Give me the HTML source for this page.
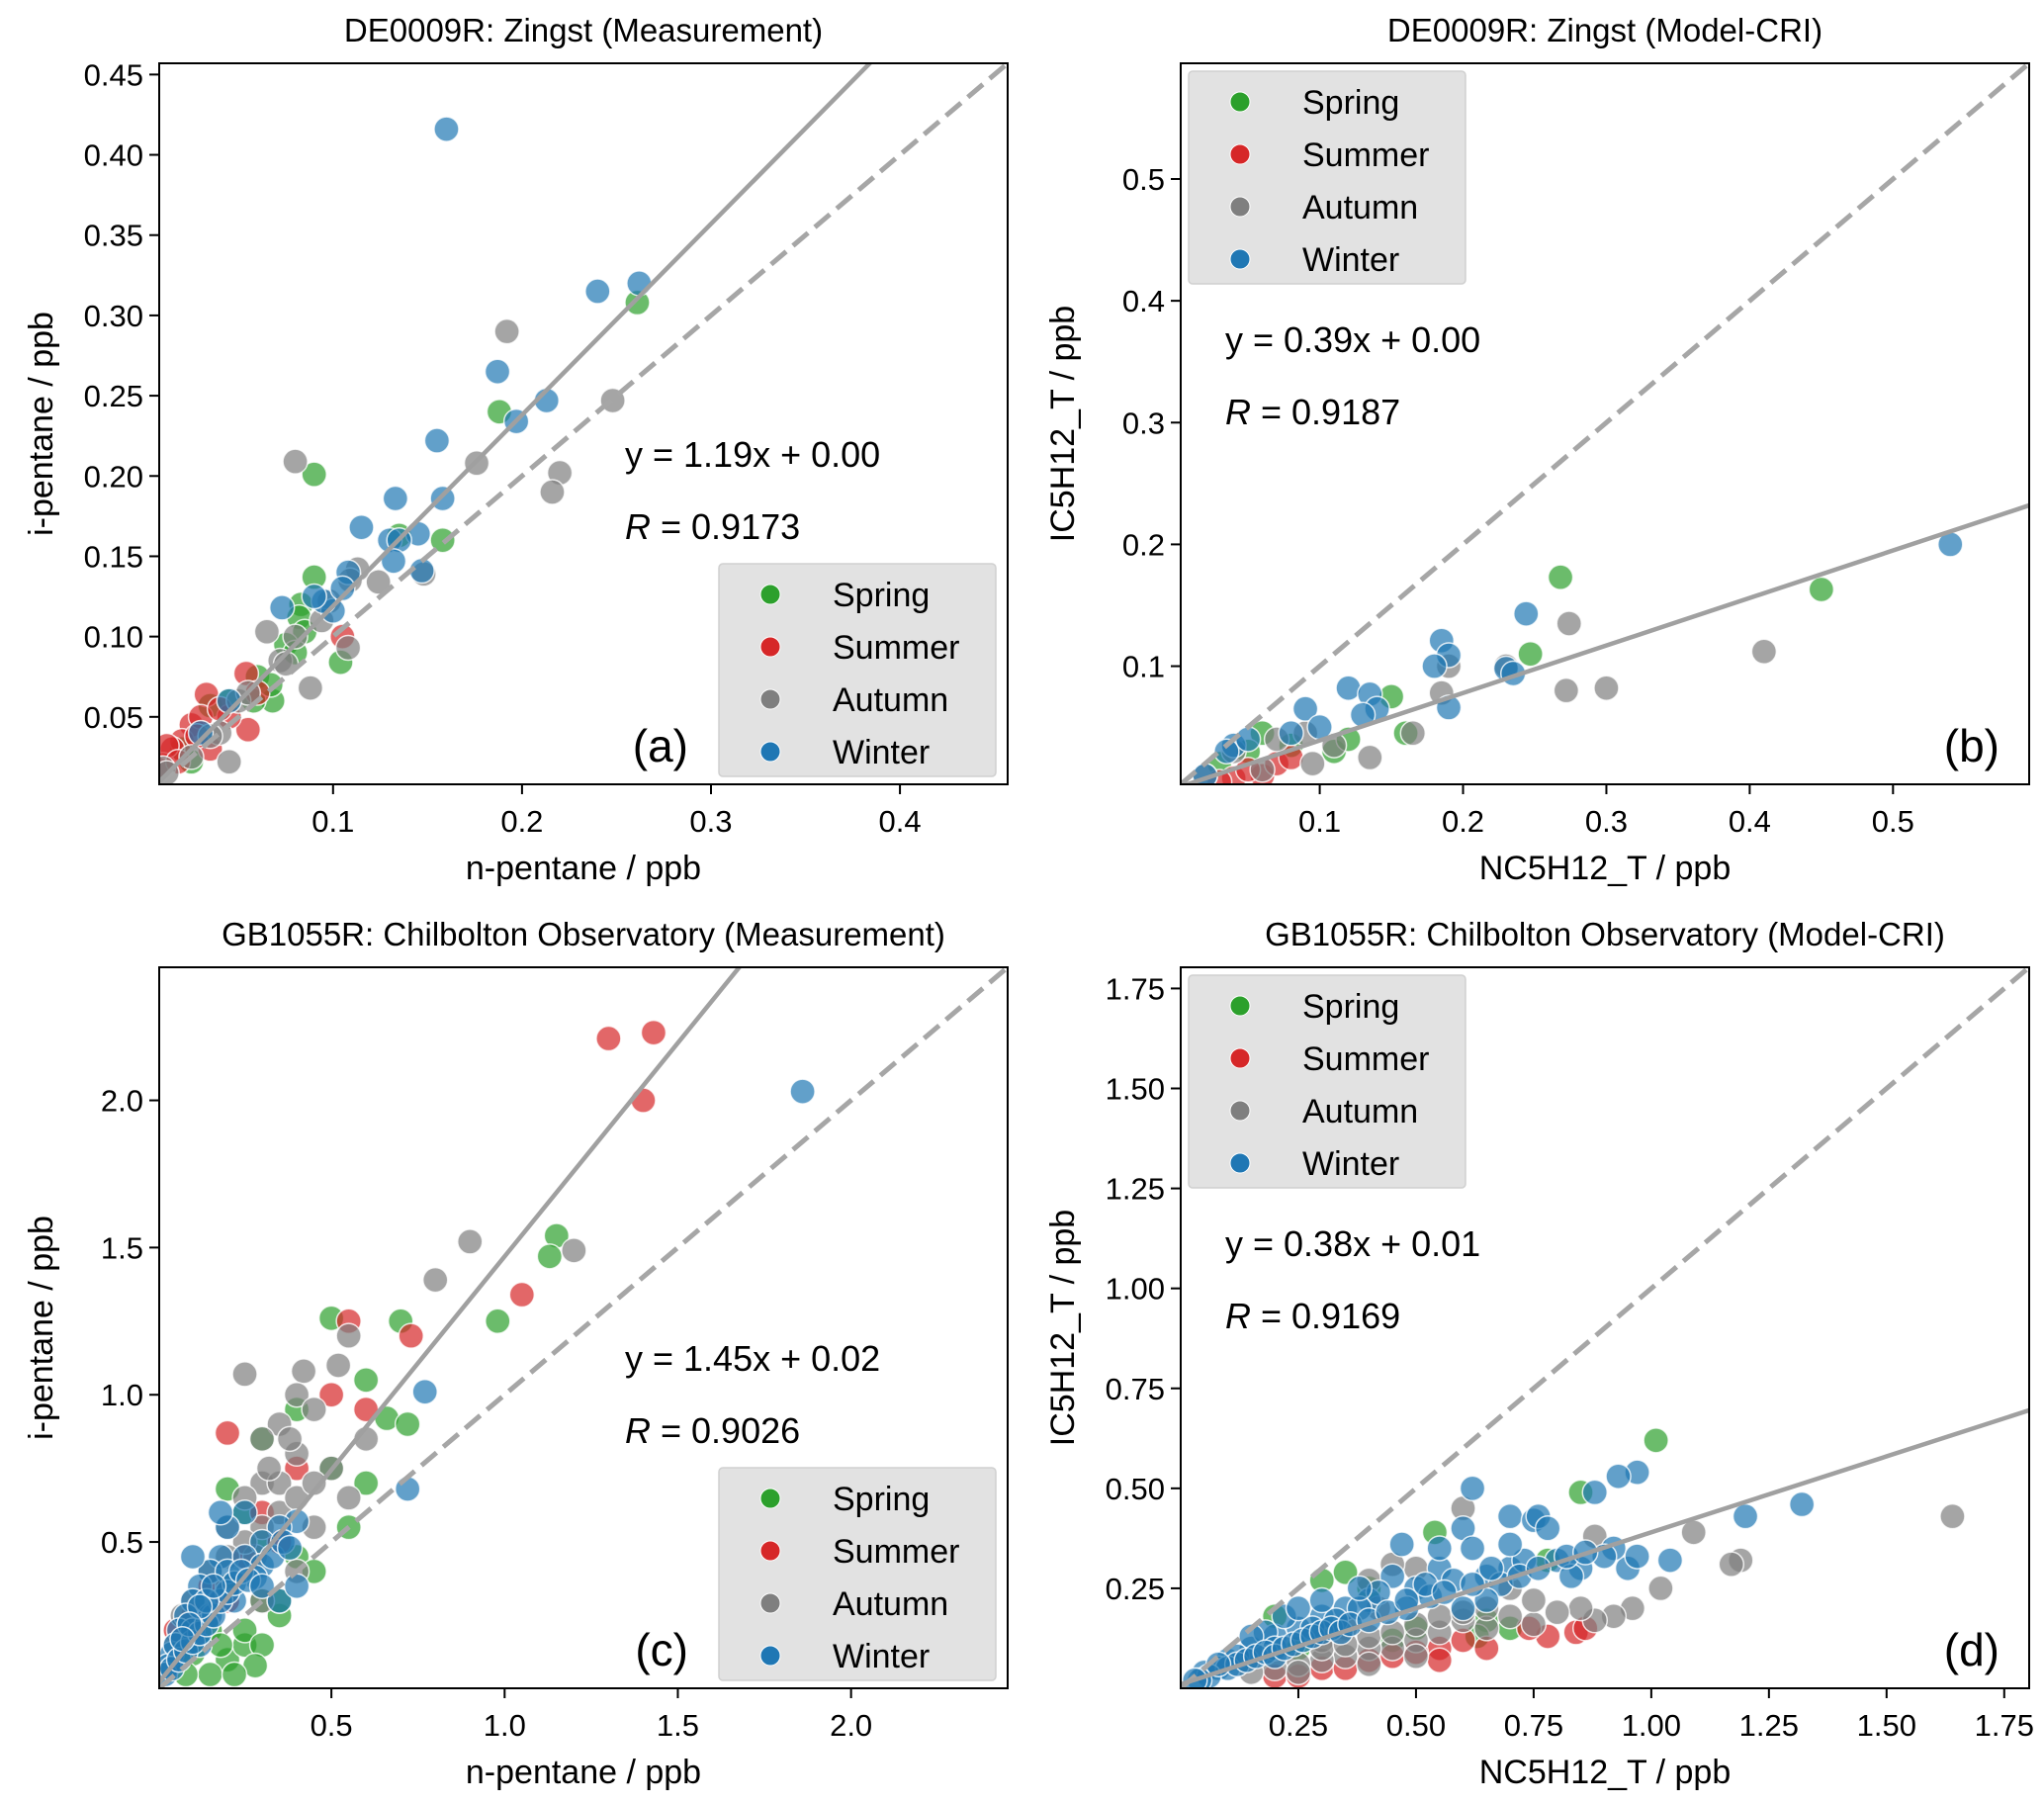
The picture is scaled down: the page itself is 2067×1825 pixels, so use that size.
<!DOCTYPE html>
<html><head><meta charset="utf-8"><style>
body{margin:0;background:#fff}
svg{display:block;font-family:"Liberation Sans","DejaVu Sans",sans-serif}
</style></head><body>
<svg id="fig" width="2067" height="1825" viewBox="0 0 2067 1825" xmlns="http://www.w3.org/2000/svg"></svg>
<script>
// ---- data arrays (season point sets per panel) ----
const seasons = ["Spring","Summer","Autumn","Winter"];
const seasonColors = ["#2ca02c","#d62728","#7f7f7f","#1f77b4"];

const aSpring = [[0.261,0.308],[0.188,0.24],[0.09,0.201],[0.135,0.163],[0.158,0.16],[0.09,0.137],[0.083,0.12],[0.082,0.112],[0.085,0.103],[0.104,0.084],[0.075,0.095],[0.06,0.075],[0.068,0.06],[0.058,0.06],[0.067,0.07],[0.035,0.057],[0.045,0.06],[0.025,0.022],[0.02,0.03],[0.08,0.09]];
const aSummer = [[0.105,0.1],[0.054,0.077],[0.033,0.064],[0.055,0.042],[0.045,0.05],[0.025,0.045],[0.03,0.05],[0.035,0.03],[0.02,0.035],[0.015,0.03],[0.01,0.02],[0.012,0.032],[0.018,0.022],[0.04,0.055],[0.06,0.065],[0.028,0.038]];
const aAutumn = [[0.192,0.29],[0.248,0.247],[0.176,0.208],[0.08,0.209],[0.22,0.202],[0.216,0.19],[0.148,0.139],[0.124,0.134],[0.113,0.142],[0.109,0.135],[0.098,0.122],[0.094,0.11],[0.108,0.093],[0.065,0.103],[0.088,0.068],[0.072,0.085],[0.075,0.083],[0.08,0.1],[0.045,0.022],[0.04,0.04],[0.05,0.06],[0.055,0.065],[0.025,0.025],[0.01,0.018],[0.012,0.015],[0.035,0.038]];
const aWinter = [[0.16,0.416],[0.24,0.315],[0.262,0.32],[0.187,0.265],[0.213,0.247],[0.197,0.234],[0.155,0.222],[0.133,0.186],[0.158,0.186],[0.115,0.168],[0.145,0.164],[0.13,0.16],[0.135,0.16],[0.132,0.147],[0.147,0.141],[0.108,0.14],[0.073,0.118],[0.1,0.116],[0.095,0.122],[0.105,0.13],[0.09,0.125],[0.045,0.06],[0.03,0.04]];

const bSpring = [[0.45,0.163],[0.268,0.173],[0.247,0.11],[0.15,0.075],[0.16,0.045],[0.11,0.03],[0.06,0.045],[0.08,0.035],[0.12,0.04],[0.05,0.03],[0.03,0.02]];
const bSummer = [[0.06,0.01],[0.04,0.008],[0.05,0.015],[0.07,0.02],[0.03,0.005],[0.08,0.025]];
const bAutumn = [[0.41,0.112],[0.274,0.135],[0.3,0.082],[0.272,0.08],[0.185,0.078],[0.19,0.1],[0.135,0.025],[0.165,0.045],[0.23,0.1],[0.09,0.045],[0.095,0.02],[0.06,0.015],[0.11,0.035],[0.04,0.03],[0.02,0.01],[0.07,0.04]];
const bWinter = [[0.54,0.2],[0.244,0.143],[0.185,0.121],[0.19,0.109],[0.18,0.1],[0.19,0.066],[0.23,0.098],[0.235,0.094],[0.12,0.082],[0.135,0.077],[0.14,0.065],[0.13,0.06],[0.09,0.065],[0.1,0.05],[0.04,0.035],[0.035,0.03],[0.05,0.04],[0.08,0.045],[0.02,0.01]];

const cSpring = [[1.15,1.54],[1.13,1.47],[0.98,1.25],[0.7,1.25],[0.5,1.26],[0.6,1.05],[0.66,0.92],[0.72,0.9],[0.4,0.95],[0.6,0.7],[0.3,0.85],[0.2,0.68],[0.25,0.6],[0.3,0.5],[0.4,0.45],[0.2,0.35],[0.15,0.2],[0.2,0.1],[0.25,0.15],[0.15,0.05],[0.1,0.12],[0.3,0.3],[0.35,0.25],[0.45,0.4],[0.55,0.55],[0.5,0.75],[0.08,0.05],[0.25,0.2],[0.3,0.15],[0.35,0.3],[0.18,0.15],[0.28,0.08],[0.22,0.05]];
const cSummer = [[1.3,2.21],[1.43,2.23],[1.4,2.0],[1.05,1.34],[0.73,1.2],[0.55,1.25],[0.6,0.95],[0.5,1.0],[0.2,0.87],[0.4,0.75],[0.3,0.6],[0.25,0.45],[0.1,0.25],[0.15,0.35],[0.05,0.2],[0.2,0.3],[0.35,0.5]];
const cAutumn = [[1.2,1.49],[0.9,1.52],[0.8,1.39],[0.55,1.2],[0.52,1.1],[0.25,1.07],[0.42,1.08],[0.4,1.0],[0.45,0.95],[0.35,0.9],[0.3,0.85],[0.4,0.8],[0.5,0.75],[0.3,0.7],[0.25,0.65],[0.35,0.6],[0.45,0.55],[0.2,0.55],[0.28,0.45],[0.15,0.4],[0.1,0.3],[0.2,0.35],[0.4,0.4],[0.05,0.15],[0.07,0.25],[0.3,0.3],[0.6,0.85],[0.55,0.65],[0.3,0.55],[0.35,0.7],[0.4,0.65],[0.45,0.7],[0.25,0.5],[0.2,0.45],[0.38,0.85],[0.32,0.75]];
const cWinter = [[1.86,2.03],[0.77,1.01],[0.72,0.68],[0.4,0.57],[0.35,0.55],[0.3,0.5],[0.25,0.6],[0.2,0.55],[0.18,0.45],[0.15,0.4],[0.12,0.35],[0.1,0.3],[0.08,0.25],[0.06,0.2],[0.04,0.12],[0.03,0.08],[0.05,0.15],[0.2,0.4],[0.25,0.45],[0.3,0.42],[0.22,0.3],[0.15,0.25],[0.35,0.3],[0.4,0.35],[0.1,0.2],[0.12,0.15],[0.28,0.38],[0.18,0.6],[0.1,0.45],[0.02,0.05],[0.04,0.07],[0.06,0.1],[0.08,0.13],[0.1,0.16],[0.12,0.19],[0.14,0.22],[0.16,0.25],[0.18,0.3],[0.2,0.33],[0.22,0.36],[0.24,0.4],[0.26,0.37],[0.3,0.35],[0.33,0.45],[0.36,0.5],[0.38,0.48],[0.14,0.3],[0.16,0.35],[0.12,0.28],[0.09,0.22],[0.07,0.17]];

const dSpring = [[1.01,0.62],[0.85,0.49],[0.54,0.39],[0.35,0.29],[0.3,0.27],[0.65,0.17],[0.63,0.13],[0.7,0.15],[0.4,0.25],[0.2,0.18],[0.5,0.15],[0.45,0.12],[0.25,0.1],[0.78,0.32]];
const dSummer = [[0.78,0.13],[0.84,0.14],[0.86,0.15],[0.74,0.15],[0.55,0.1],[0.4,0.07],[0.3,0.05],[0.2,0.03],[0.45,0.08],[0.5,0.09],[0.6,0.12],[0.25,0.03],[0.35,0.05],[0.55,0.07],[0.65,0.1]];
const dAutumn = [[1.64,0.43],[1.09,0.39],[1.19,0.32],[1.17,0.31],[1.02,0.25],[0.88,0.38],[0.6,0.45],[0.96,0.2],[0.92,0.18],[0.88,0.17],[0.85,0.2],[0.8,0.19],[0.75,0.16],[0.7,0.18],[0.65,0.15],[0.6,0.17],[0.55,0.14],[0.5,0.12],[0.45,0.1],[0.4,0.1],[0.35,0.08],[0.3,0.07],[0.25,0.06],[0.2,0.05],[0.15,0.04],[0.5,0.3],[0.45,0.31],[0.4,0.27],[0.7,0.25],[0.75,0.22],[0.35,0.15],[0.3,0.12],[0.42,0.2],[0.3,0.1],[0.35,0.11],[0.4,0.13],[0.45,0.14],[0.5,0.16],[0.55,0.18],[0.6,0.19],[0.65,0.2],[0.5,0.08],[0.4,0.06],[0.25,0.04]];
const dWinter = [[1.32,0.46],[1.2,0.43],[1.04,0.32],[0.97,0.54],[0.93,0.53],[0.88,0.49],[0.62,0.5],[0.7,0.43],[0.75,0.42],[0.76,0.43],[0.78,0.4],[0.6,0.4],[0.62,0.35],[0.47,0.36],[0.95,0.3],[0.92,0.35],[0.85,0.3],[0.8,0.32],[0.7,0.3],[0.65,0.28],[0.55,0.3],[0.5,0.25],[0.45,0.28],[0.4,0.22],[0.35,0.2],[0.3,0.18],[0.25,0.15],[0.2,0.13],[0.15,0.1],[0.1,0.07],[0.05,0.04],[0.08,0.05],[0.12,0.08],[0.18,0.14],[0.22,0.18],[0.28,0.15],[0.33,0.17],[0.38,0.2],[0.42,0.24],[0.48,0.2],[0.53,0.23],[0.58,0.27],[0.68,0.26],[0.73,0.32],[0.83,0.28],[0.9,0.33],[0.97,0.33],[0.6,0.2],[0.65,0.22],[0.25,0.2],[0.3,0.22],[0.38,0.25],[0.7,0.36],[0.55,0.35],[0.2,0.1],[0.15,0.13],[0.1,0.05],[0.12,0.06],[0.14,0.07],[0.16,0.08],[0.18,0.09],[0.2,0.08],[0.22,0.1],[0.24,0.11],[0.26,0.12],[0.28,0.13],[0.3,0.14],[0.32,0.15],[0.34,0.14],[0.36,0.16],[0.4,0.17],[0.44,0.19],[0.48,0.22],[0.52,0.26],[0.56,0.24],[0.62,0.26],[0.66,0.3],[0.72,0.28],[0.76,0.3],[0.82,0.33],[0.86,0.34],[0.06,0.03],[0.04,0.02],[0.03,0.02],[0.08,0.06]];

const panelTitles = ["DE0009R: Zingst (Measurement)","DE0009R: Zingst (Model-CRI)","GB1055R: Chilbolton Observatory (Measurement)","GB1055R: Chilbolton Observatory (Model-CRI)"];
const xLabels = ["n-pentane / ppb","NC5H12_T / ppb","n-pentane / ppb","NC5H12_T / ppb"];
const yLabels = ["i-pentane / ppb","IC5H12_T / ppb","i-pentane / ppb","IC5H12_T / ppb"];
const slopes = [1.19,0.39,1.45,0.38];
const intercepts = [0.00,0.00,0.02,0.01];
const rValues = ["0.9173","0.9187","0.9026","0.9169"];
const xTicks = [[0.1,0.2,0.3,0.4],[0.1,0.2,0.3,0.4,0.5],[0.5,1.0,1.5,2.0],[0.25,0.5,0.75,1.0,1.25,1.5,1.75]];
const yTicks = [[0.05,0.1,0.15,0.2,0.25,0.3,0.35,0.4,0.45],[0.1,0.2,0.3,0.4,0.5],[0.5,1.0,1.5,2.0],[0.25,0.5,0.75,1.0,1.25,1.5,1.75]];
const xTickLabels = [["0.1","0.2","0.3","0.4"],["0.1","0.2","0.3","0.4","0.5"],["0.5","1.0","1.5","2.0"],["0.25","0.50","0.75","1.00","1.25","1.50","1.75"]];
const yTickLabels = [["0.05","0.10","0.15","0.20","0.25","0.30","0.35","0.40","0.45"],["0.1","0.2","0.3","0.4","0.5"],["0.5","1.0","1.5","2.0"],["0.25","0.50","0.75","1.00","1.25","1.50","1.75"]];
const domains = [[0.008,0.457],[0.003,0.595],[0.003,2.452],[0.0,1.803]];
const panelLetters = ["(a)","(b)","(c)","(d)"];
const pointSets = [[aSpring,aSummer,aAutumn,aWinter],[bSpring,bSummer,bAutumn,bWinter],[cSpring,cSummer,cAutumn,cWinter],[dSpring,dSummer,dAutumn,dWinter]];

// ---- layout ----
const NS="http://www.w3.org/2000/svg";
const svg=document.getElementById('fig');
function mk(tag,attrs,parent,text){const e=document.createElementNS(NS,tag);for(const k in attrs)e.setAttribute(k,attrs[k]);if(text!==undefined)e.textContent=text;(parent||svg).appendChild(e);return e;}
const boxes=[{l:161,t:64,w:858,h:729},{l:1194,t:64,w:858,h:729},{l:161,t:978,w:858,h:729},{l:1194,t:978,w:858,h:729}];
const legendRight=[true,false,true,false];
const annotLeft=[false,true,false,true];

for(let p=0;p<4;p++){
  const b=boxes[p],d=domains[p];
  const g=mk('g',{});
  
  
  const sx=v=>b.l+(v-d[0])/(d[1]-d[0])*b.w;
  const sy=v=>b.t+b.h-(v-d[0])/(d[1]-d[0])*b.h;
  const cid='clip'+p;
  const cp=mk('clipPath',{id:cid},g);mk('rect',{x:b.l,y:b.t,width:b.w,height:b.h},cp);
  const plot=mk('g',{'clip-path':'url(#'+cid+')'},g);
  
  
  pointSets[p].forEach((pts,si)=>{
    pts.forEach(pt=>{
      const c=mk('circle',{cx:sx(pt[0]),cy:sy(pt[1]),r:12.5,fill:seasonColors[si],'fill-opacity':0.7,stroke:'#fff','stroke-width':1.5,'stroke-opacity':0.8},plot);
      
      
    });
  });
  const l1=mk('line',{x1:sx(d[0]),y1:sy(d[0]),x2:sx(d[1]),y2:sy(d[1]),stroke:'#a6a6a6','stroke-width':5,'stroke-dasharray':'20,9'},plot);
  
  
  const fl=mk('line',{x1:sx(d[0]),y1:sy(slopes[p]*d[0]+intercepts[p]),x2:sx(d[1]),y2:sy(slopes[p]*d[1]+intercepts[p]),stroke:'#a0a0a0','stroke-width':4.5},plot);
  
  
  const fr=mk('rect',{x:b.l,y:b.t,width:b.w,height:b.h,fill:'none',stroke:'#000','stroke-width':2},g);
  
  
  xTicks[p].forEach((v,i)=>{
    const x=sx(v);
    mk('line',{x1:x,y1:b.t+b.h,x2:x,y2:b.t+b.h+10,stroke:'#000','stroke-width':2},g);
    const t=mk('text',{x:x,y:b.t+b.h+48,'font-size':31,'text-anchor':'middle'},g,xTickLabels[p][i]);
    
    
  });
  yTicks[p].forEach((v,i)=>{
    const y=sy(v);
    mk('line',{x1:b.l-10,y1:y,x2:b.l,y2:y,stroke:'#000','stroke-width':2},g);
    const t=mk('text',{x:b.l-16,y:y+11,'font-size':31,'text-anchor':'end'},g,yTickLabels[p][i]);
    
    
  });
  const tt=mk('text',{x:b.l+b.w/2,y:b.t-22,'font-size':33,'text-anchor':'middle'},g,panelTitles[p]);
  
  
  const xl=mk('text',{x:b.l+b.w/2,y:b.t+b.h+96,'font-size':34,'text-anchor':'middle'},g,xLabels[p]);
  
  
  const yx=b.l-108, yy=b.t+b.h/2;
  const yl=mk('text',{x:yx,y:yy,'font-size':34,'text-anchor':'middle',transform:'rotate(-90 '+yx+' '+yy+')'},g,yLabels[p]);
  
  
  const ax=annotLeft[p]?b.l+45:b.l+471;
  const ay=annotLeft[p]?b.t+292:b.t+408;
  const eq=mk('text',{x:ax,y:ay,'font-size':36},g,'y = '+slopes[p].toFixed(2)+'x + '+intercepts[p].toFixed(2));
  
  
  const rt=mk('text',{x:ax,y:ay+73,'font-size':36},g);
  
  
  mk('tspan',{'font-style':'italic'},rt,'R');
  mk('tspan',{},rt,' = '+rValues[p]);
  const lxEnd=legendRight[p]?b.l+535:b.l+b.w-30;
  const lt=mk('text',{x:lxEnd,y:b.t+b.h-23,'font-size':46,'text-anchor':'end'},g,panelLetters[p]);
  
  
  const lx=legendRight[p]?b.l+566:b.l+8, ly=legendRight[p]?b.t+506:b.t+8;
  const lg=mk('g',{},g);
  
  
  mk('rect',{x:lx,y:ly,width:280,height:215,rx:4,fill:'#e2e2e2',stroke:'#d0d0d0','stroke-width':1.5},lg);
  seasons.forEach((s,si)=>{
    const ey=ly+31+si*53;
    const e=mk('g',{},lg);
    
    
    mk('circle',{cx:lx+52,cy:ey,r:10,fill:seasonColors[si],stroke:'#fff','stroke-width':1},e);
    mk('text',{x:lx+115,y:ey+12,'font-size':34},e,s);
  });
}
</script>
</body></html>
